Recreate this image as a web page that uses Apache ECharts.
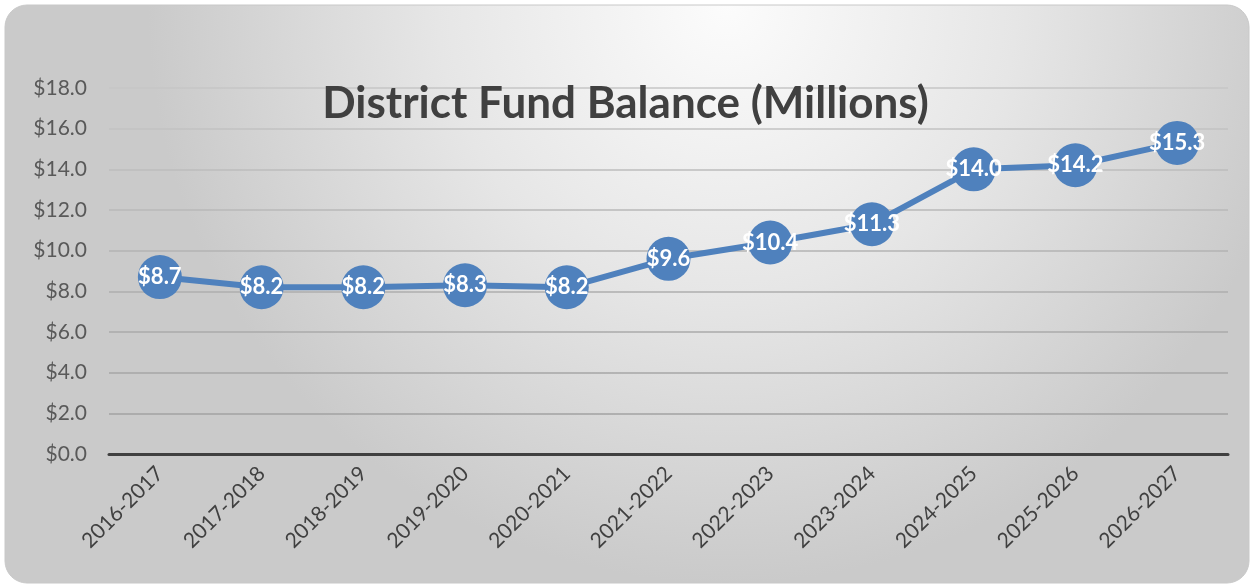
<!DOCTYPE html>
<html>
<head>
<meta charset="utf-8">
<script src="https://cdn.jsdelivr.net/npm/echarts@6/dist/echarts.min.js"></script>
<style>
  html, body { margin: 0; padding: 0; background: #fff; }
  #fund-balance { width: 1251px; height: 584px; }
</style>
</head>
<body>
<div id="fund-balance"></div>
<script>
  // fiscal years and balance in millions
  const years = ["2016-2017", "2017-2018", "2018-2019", "2019-2020", "2020-2021", "2021-2022",
    "2022-2023", "2023-2024", "2024-2025", "2025-2026", "2026-2027"];
  const balance = [8.7, 8.2, 8.2, 8.3, 8.2, 9.6, 10.4, 11.3, 14.0, 14.2, 15.3];
  const yMin = 0;
  const yMax = 18;
  const yStep = 2;

  const money = v => "$" + Number(v).toFixed(1);
  const chart = echarts.init(document.getElementById("fund-balance"));
  chart.setOption({
    animation: false,
    graphic: [{
      type: "rect",
      z: -10,
      silent: true,
      shape: { x: 5, y: 5, width: 1244, height: 578, r: 22 },
      style: {
        fill: new echarts.graphic.RadialGradient(0.58, 0.0, 1.0, [
          { offset: 0, color: "#fcfcfc" },
          { offset: 0.5, color: "#e6e6e6" },
          { offset: 1, color: "#cacaca" }
        ]),
        stroke: "#c8c8c8",
        lineWidth: 1
      }
    }],
    title: {
      text: "District Fund Balance (Millions)",
      left: "center",
      top: 77,
      textStyle: {
        fontFamily: "Lato",
        fontWeight: "bold",
        fontSize: 44,
        color: "#404040"
      }
    },
    grid: { left: 109, right: 23, top: 88, bottom: 130 },
    xAxis: {
      type: "category",
      data: years,
      boundaryGap: true,
      axisLine: { lineStyle: { color: "#404040", width: 3 } },
      axisTick: { show: false },
      axisLabel: {
        rotate: 45,
        margin: 16,
        fontFamily: "Lato",
        fontSize: 21,
        color: "#404040"
      }
    },
    yAxis: {
      type: "value",
      min: yMin,
      max: yMax,
      interval: yStep,
      axisLine: { show: false },
      axisTick: { show: false },
      axisLabel: {
        formatter: money,
        margin: 22,
        fontFamily: "Lato",
        fontSize: 21,
        color: "#595959"
      },
      splitLine: {
        lineStyle: {
          // darker near the bottom, lighter toward the top
          color: ["#9e9e9e", "#a2a2a2", "#a6a6a6", "#aaaaaa", "#aeaeae", "#b3b3b3",
            "#b8b8b8", "#bdbdbd", "#c2c2c2", "#c6c6c6"],
          width: 1.5
        }
      }
    },
    series: [{
      type: "line",
      data: balance,
      symbol: "circle",
      symbolSize: 44,
      lineStyle: { color: "#4f81bd", width: 6 },
      itemStyle: { color: "#4f81bd" },
      label: {
        show: true,
        position: "inside",
        formatter: p => money(p.value),
        fontFamily: "Lato",
        fontWeight: "bold",
        fontSize: 22,
        color: "#fff"
      }
    }]
  });
</script>
</body>
</html>
